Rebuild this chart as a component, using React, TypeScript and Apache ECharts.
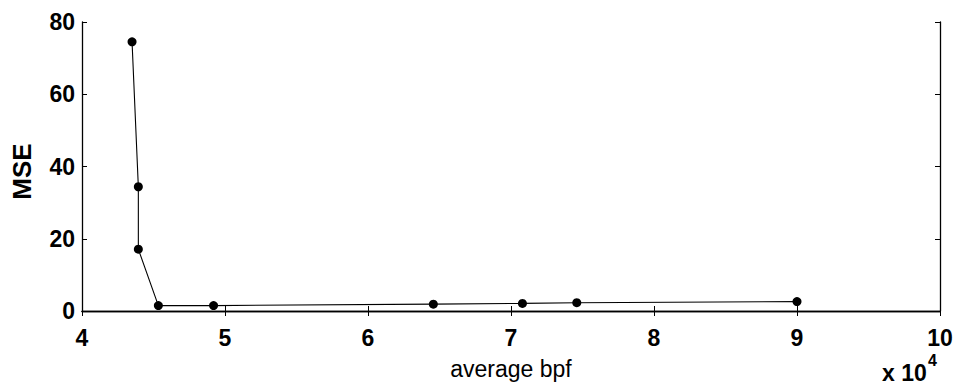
import React, { useEffect, useRef } from "react";
import * as echarts from "echarts";

const bpf = [43500, 43940, 43940, 45340, 49200, 64570, 70800, 74600, 90000];
const mse = [74.5, 34.4, 17.1, 1.5, 1.5, 1.9, 2.1, 2.3, 2.6];
const yTicks = [0, 20, 40, 60, 80];
const xTickLabels = ["4", "5", "6", "7", "8", "9", "10"];

const FONT = "'Liberation Sans', Arial, Helvetica, sans-serif";

export default function App() {
  const ref = useRef<HTMLDivElement>(null);
  useEffect(() => {
    if (!ref.current) return;
    const chart = echarts.init(ref.current, null, { renderer: "svg" });
    const axisLine = { show: true, lineStyle: { color: "#000", width: 1.3 } };
    const tick = { show: true, inside: true, length: 5, lineStyle: { color: "#000", width: 1 } };
    chart.setOption({
      animation: false,
      backgroundColor: "#fff",
      grid: { left: 82, right: 18, top: 22, bottom: 77, containLabel: false },
      xAxis: [
        {
          type: "value",
          min: 40000,
          max: 100000,
          interval: 10000,
          position: "bottom",
          axisLine,
          axisTick: tick,
          splitLine: { show: false },
          axisLabel: {
            color: "#000",
            fontFamily: FONT,
            fontWeight: "bold",
            fontSize: 23,
            margin: 15,
            formatter: (v: number) => xTickLabels[Math.round((v - 40000) / 10000)] ?? "",
          },
          name: "average bpf",
          nameLocation: "middle",
          nameGap: 46,
          nameTextStyle: { color: "#000", fontFamily: FONT, fontSize: 23 },
        },
        {
          type: "value",
          min: 40000,
          max: 100000,
          interval: 10000,
          position: "top",
          axisLine,
          axisTick: tick,
          axisLabel: { show: false },
          splitLine: { show: false },
        },
      ],
      yAxis: [
        {
          type: "value",
          min: 0,
          max: 80,
          interval: 20,
          position: "left",
          axisLine,
          axisTick: tick,
          splitLine: { show: false },
          axisLabel: {
            color: "#000",
            fontFamily: FONT,
            fontWeight: "bold",
            fontSize: 23,
            margin: 7,
            formatter: (v: number) => (yTicks.includes(v) ? String(v) : ""),
          },
          name: "MSE",
          nameLocation: "middle",
          nameGap: 47,
          nameTextStyle: {
            color: "#000",
            fontFamily: FONT,
            fontSize: 26,
            fontWeight: "bold",
            padding: [0, 10, 0, 0],
          },
        },
        {
          type: "value",
          min: 0,
          max: 80,
          interval: 20,
          position: "right",
          axisLine,
          axisTick: tick,
          axisLabel: { show: false },
          splitLine: { show: false },
        },
      ],
      graphic: [
        {
          type: "text",
          left: 882,
          top: 361,
          style: {
            text: "x 10",
            fill: "#000",
            font: `bold 23px ${FONT}`,
          },
        },
        {
          type: "text",
          left: 928,
          top: 352,
          style: {
            text: "4",
            fill: "#000",
            font: `bold 16px ${FONT}`,
          },
        },
      ],
      series: [
        {
          type: "line",
          data: bpf.map((x, i) => [x, mse[i]]),
          xAxisIndex: 0,
          yAxisIndex: 0,
          symbol: "circle",
          symbolSize: 9,
          itemStyle: { color: "#000" },
          lineStyle: { color: "#000", width: 1.1 },
        },
      ],
    });
    return () => chart.dispose();
  }, []);
  return (
    <div
      ref={ref}
      style={{ position: "fixed", left: 0, top: 0, width: 958, height: 388 }}
    />
  );
}
